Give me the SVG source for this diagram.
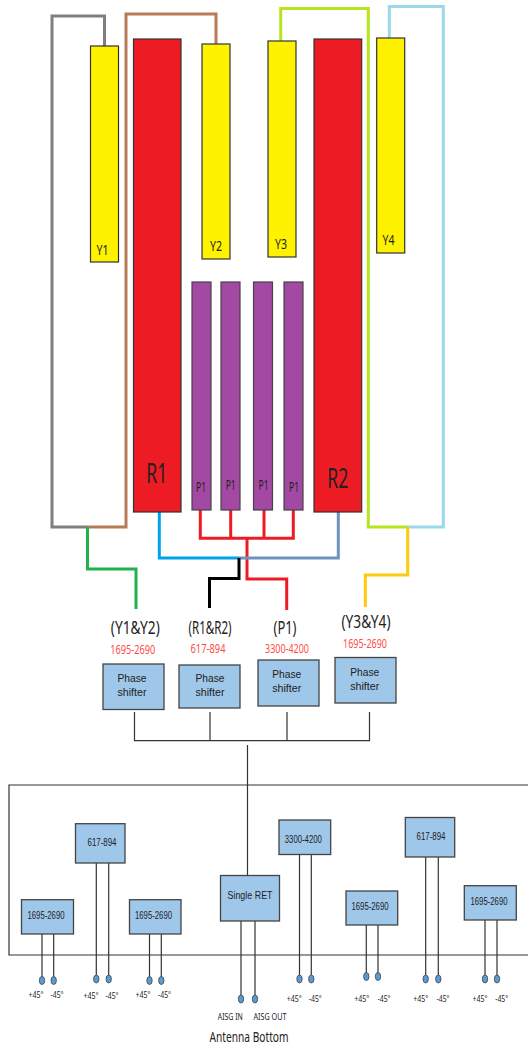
<svg xmlns="http://www.w3.org/2000/svg" width="528" height="1045" viewBox="0 0 528 1045">
<style>
text{font-family:"Noto Sans","Liberation Sans",sans-serif;text-anchor:middle;fill:#222;}
.y{fill:#fff200;stroke:#333;stroke-width:1.2;}
.r{fill:#ed1c24;stroke:#333;stroke-width:1.2;}
.p{fill:#a349a4;stroke:#444;stroke-width:1.2;}
.b{fill:#9fc7ea;stroke:#444;stroke-width:1.3;}
.w{fill:none;stroke-width:3;}
.t{fill:none;stroke:#333;stroke-width:1.2;}
.d{fill:#5b9bd5;stroke:#444;stroke-width:.8;}
.s{font-size:14px;}
.h{font-size:18px;}
.f{font-size:13px;fill:#ff4b4b;}
.m{font-family:"Liberation Sans",sans-serif;font-size:11.5px;}
.a{font-size:9.5px;}
</style>
<rect width="528" height="1045" fill="#fff"/>
<g id="connectors">
<path class="w" stroke="#7f7f7f" d="M104.5 46V16H52V527H87"/>
<path class="w" stroke="#b97a57" d="M216 44V14H126V527H87"/>
<path class="w" stroke="#22b14c" d="M87.5 527V569H136V609"/>
<path class="w" stroke="#b5e61d" d="M280.7 41V8.5H368.3V527H407"/>
<path class="w" stroke="#99d9ea" d="M389.3 38V6.5H443.3V527H407"/>
<path class="w" stroke="#ffc90e" d="M407.7 527V575H365.3V607"/>
<path class="w" stroke="#ed1c24" d="M200.3 510V538.3H293.3V510M230.7 510V538.3M264 510V538.3M247 538.3V579H286.7V610"/>
<path class="w" stroke="#00a2e8" d="M159.3 512V558H239"/>
<path class="w" stroke="#7092be" d="M239 558H338.3V512"/>
<path class="w" stroke="#000" d="M239 558V578.5H209.5V608"/>
<path class="t" d="M134.5 712V740.7H369.5V712M210 712V740.7M287 712V740.7M247.5 745V875.5"/>
<path class="t" stroke="#444" d="M528 785H9V955H528"/>
<path class="t" d="M42 934V977M53.7 934V977M96.3 863V975M108.7 863V975M149.5 934V977M161.3 934V977M241 921V995M255 921V995M299.5 854.5V975M311.3 854.5V975M366.3 925V973M378 925V973M425.7 857V975M438.3 857V975M485 920V975M497 920V975"/>
</g>
<g id="Y1"><rect class="y" x="90.5" y="46" width="28" height="216"/><text class="s" x="102.5" y="255" textLength="12" lengthAdjust="spacingAndGlyphs">Y1</text></g>
<g id="R1"><rect class="r" x="133.5" y="39" width="47.5" height="473"/><text x="156.7" y="482.7" font-size="27" textLength="21" lengthAdjust="spacingAndGlyphs">R1</text></g>
<g id="Y2"><rect class="y" x="202" y="44" width="28" height="215"/><text class="s" x="216" y="251" textLength="12" lengthAdjust="spacingAndGlyphs">Y2</text></g>
<g id="Y3"><rect class="y" x="268" y="41" width="28" height="216"/><text class="s" x="281" y="248.5" textLength="12" lengthAdjust="spacingAndGlyphs">Y3</text></g>
<g id="R2"><rect class="r" x="314" y="39" width="47.7" height="473"/><text x="337.7" y="488" font-size="27" textLength="21" lengthAdjust="spacingAndGlyphs">R2</text></g>
<g id="Y4"><rect class="y" x="376.7" y="38" width="28" height="215"/><text class="s" x="388.5" y="245" textLength="12" lengthAdjust="spacingAndGlyphs">Y4</text></g>
<g id="P1a"><rect class="p" x="192" y="282" width="19" height="228"/><text class="s" x="201" y="491.7" textLength="10" lengthAdjust="spacingAndGlyphs">P1</text></g>
<g id="P1b"><rect class="p" x="221" y="282" width="19" height="228"/><text class="s" x="230.7" y="490" textLength="10" lengthAdjust="spacingAndGlyphs">P1</text></g>
<g id="P1c"><rect class="p" x="253.5" y="282" width="19" height="228"/><text class="s" x="263.5" y="490" textLength="10" lengthAdjust="spacingAndGlyphs">P1</text></g>
<g id="P1d"><rect class="p" x="284" y="282" width="19" height="228"/><text class="s" x="294" y="491.7" textLength="10" lengthAdjust="spacingAndGlyphs">P1</text></g>
<g id="ps1"><text class="h" x="135.3" y="634" textLength="49" lengthAdjust="spacingAndGlyphs">(Y1&amp;Y2)</text><text class="f" x="132.7" y="654" textLength="45" lengthAdjust="spacingAndGlyphs">1695-2690</text><rect class="b" x="103" y="664" width="61" height="45.5"/><text class="m" x="132" y="682" textLength="29" lengthAdjust="spacingAndGlyphs">Phase</text><text class="m" x="132" y="696" textLength="29" lengthAdjust="spacingAndGlyphs">shifter</text></g>
<g id="ps2"><text class="h" x="210" y="633.5" textLength="43" lengthAdjust="spacingAndGlyphs">(R1&amp;R2)</text><text class="f" x="208" y="653" textLength="35" lengthAdjust="spacingAndGlyphs">617-894</text><rect class="b" x="179" y="665" width="61" height="43"/><text class="m" x="210" y="682" textLength="29" lengthAdjust="spacingAndGlyphs">Phase</text><text class="m" x="210" y="696" textLength="29" lengthAdjust="spacingAndGlyphs">shifter</text></g>
<g id="ps3"><text class="h" x="285" y="634" textLength="23" lengthAdjust="spacingAndGlyphs">(P1)</text><text class="f" x="287" y="653" textLength="44" lengthAdjust="spacingAndGlyphs">3300-4200</text><rect class="b" x="258" y="660" width="61" height="46"/><text class="m" x="286.7" y="678" textLength="29" lengthAdjust="spacingAndGlyphs">Phase</text><text class="m" x="286.7" y="692" textLength="29" lengthAdjust="spacingAndGlyphs">shifter</text></g>
<g id="ps4"><text class="h" x="366" y="628" textLength="49" lengthAdjust="spacingAndGlyphs">(Y3&amp;Y4)</text><text class="f" x="365" y="648" textLength="44" lengthAdjust="spacingAndGlyphs">1695-2690</text><rect class="b" x="335" y="657.5" width="61" height="45.5"/><text class="m" x="364.7" y="676" textLength="29" lengthAdjust="spacingAndGlyphs">Phase</text><text class="m" x="364.7" y="690" textLength="29" lengthAdjust="spacingAndGlyphs">shifter</text></g>
<g id="b1"><rect class="b" x="21.5" y="899.7" width="52" height="34.3"/><text class="m" x="46" y="919" textLength="37" lengthAdjust="spacingAndGlyphs">1695-2690</text><ellipse class="d" cx="42" cy="980.5" rx="2.7" ry="4"/><ellipse class="d" cx="53.7" cy="980.5" rx="2.7" ry="4"/><text class="a" x="36" y="998" textLength="15" lengthAdjust="spacingAndGlyphs">+45°</text><text class="a" x="57" y="998" textLength="13" lengthAdjust="spacingAndGlyphs">-45°</text></g>
<g id="b2"><rect class="b" x="75.5" y="823.7" width="49.5" height="39.3"/><text class="m" x="102" y="846" textLength="29" lengthAdjust="spacingAndGlyphs">617-894</text><ellipse class="d" cx="96.3" cy="979" rx="2.7" ry="4"/><ellipse class="d" cx="108.7" cy="979" rx="2.7" ry="4"/><text class="a" x="91" y="999" textLength="15" lengthAdjust="spacingAndGlyphs">+45°</text><text class="a" x="112" y="999" textLength="13" lengthAdjust="spacingAndGlyphs">-45°</text></g>
<g id="b3"><rect class="b" x="129.5" y="899.7" width="51.5" height="34.3"/><text class="m" x="153.5" y="919" textLength="37" lengthAdjust="spacingAndGlyphs">1695-2690</text><ellipse class="d" cx="149.5" cy="980.5" rx="2.7" ry="4"/><ellipse class="d" cx="161.3" cy="980.5" rx="2.7" ry="4"/><text class="a" x="143" y="998" textLength="15" lengthAdjust="spacingAndGlyphs">+45°</text><text class="a" x="164.5" y="998" textLength="13" lengthAdjust="spacingAndGlyphs">-45°</text></g>
<g id="ret"><rect class="b" x="220.5" y="875.5" width="59" height="45.5"/><text class="m" x="250" y="899" textLength="45" lengthAdjust="spacingAndGlyphs">Single RET</text><ellipse class="d" cx="241" cy="999" rx="2.7" ry="4"/><ellipse class="d" cx="255" cy="999" rx="2.7" ry="4"/><text class="a" x="230.3" y="1020" textLength="25" lengthAdjust="spacingAndGlyphs">AISG IN</text><text class="a" x="270" y="1020" textLength="33" lengthAdjust="spacingAndGlyphs">AISG OUT</text></g>
<g id="b4"><rect class="b" x="279" y="820" width="51.7" height="34.5"/><text class="m" x="303.3" y="842.7" textLength="37" lengthAdjust="spacingAndGlyphs">3300-4200</text><ellipse class="d" cx="299.5" cy="979" rx="2.7" ry="4"/><ellipse class="d" cx="311.3" cy="979" rx="2.7" ry="4"/><text class="a" x="294.3" y="1002" textLength="15" lengthAdjust="spacingAndGlyphs">+45°</text><text class="a" x="315.3" y="1002" textLength="13" lengthAdjust="spacingAndGlyphs">-45°</text></g>
<g id="b5"><rect class="b" x="346" y="891" width="51.7" height="34"/><text class="m" x="370" y="910" textLength="37" lengthAdjust="spacingAndGlyphs">1695-2690</text><ellipse class="d" cx="366.3" cy="976.5" rx="2.7" ry="4"/><ellipse class="d" cx="378" cy="976.5" rx="2.7" ry="4"/><text class="a" x="361.7" y="1002" textLength="15" lengthAdjust="spacingAndGlyphs">+45°</text><text class="a" x="384" y="1002" textLength="13" lengthAdjust="spacingAndGlyphs">-45°</text></g>
<g id="b6"><rect class="b" x="405.3" y="817.5" width="49.4" height="39.5"/><text class="m" x="431" y="840" textLength="29" lengthAdjust="spacingAndGlyphs">617-894</text><ellipse class="d" cx="425.7" cy="979" rx="2.7" ry="4"/><ellipse class="d" cx="438.3" cy="979" rx="2.7" ry="4"/><text class="a" x="420.7" y="1002" textLength="15" lengthAdjust="spacingAndGlyphs">+45°</text><text class="a" x="443" y="1002" textLength="13" lengthAdjust="spacingAndGlyphs">-45°</text></g>
<g id="b7"><rect class="b" x="464.3" y="885.7" width="52" height="34.3"/><text class="m" x="489" y="905" textLength="37" lengthAdjust="spacingAndGlyphs">1695-2690</text><ellipse class="d" cx="485" cy="979" rx="2.7" ry="4"/><ellipse class="d" cx="497" cy="979" rx="2.7" ry="4"/><text class="a" x="480" y="1002" textLength="15" lengthAdjust="spacingAndGlyphs">+45°</text><text class="a" x="501.7" y="1002" textLength="13" lengthAdjust="spacingAndGlyphs">-45°</text></g>
<g id="title"><text x="249" y="1041.7" font-size="15" textLength="79" lengthAdjust="spacingAndGlyphs">Antenna Bottom</text></g>
</svg>
